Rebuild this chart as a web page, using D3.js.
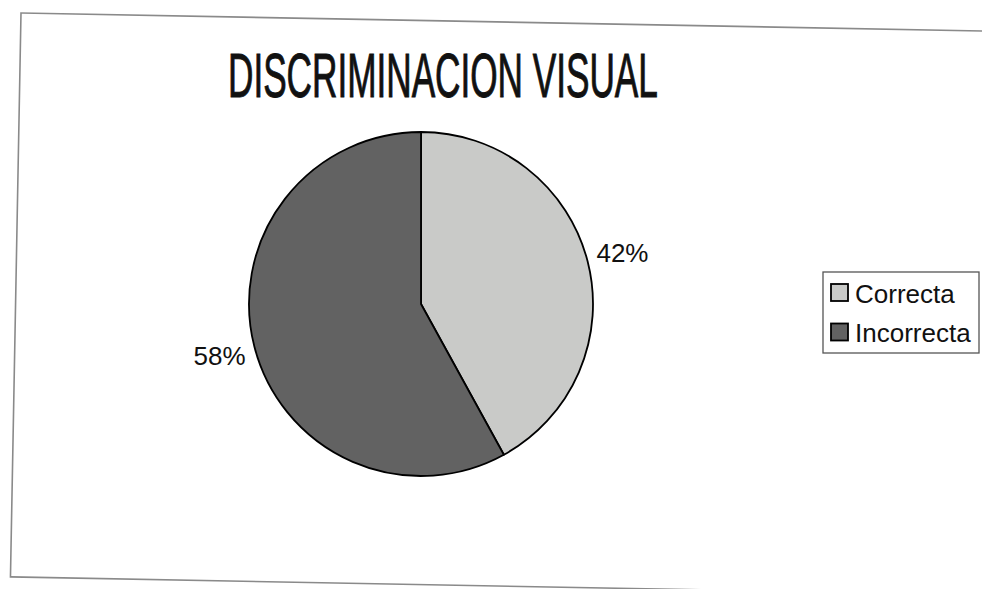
<!DOCTYPE html>
<html>
<head>
<meta charset="utf-8">
<script src="https://cdn.jsdelivr.net/npm/d3@7/dist/d3.min.js"></script>
<style>
  html, body { margin: 0; padding: 0; background: #ffffff; }
  svg { display: block; }
</style>
</head>
<body>
<svg id="chart" width="982" height="589"></svg>
<script>
// ---- data ----
const categories = ["Correcta", "Incorrecta"];
const values = [42, 58];
const labels = ["42%", "58%"];
const title = "DISCRIMINACION VISUAL";

// ---- styles ----
const colors = d3.scaleOrdinal().domain(categories).range(["#c9cac8", "#626262"]);

const svg = d3.select("#chart");

// frame (scanned page is slightly rotated)
svg.append("rect")
  .attr("x", 21).attr("y", 13)
  .attr("width", 1000).attr("height", 564)
  .attr("fill", "none")
  .attr("stroke", "#8a8a8a")
  .attr("stroke-width", 1.6)
  .attr("transform", "rotate(1.07,21,13)");

// title: condensed by horizontal scaling to the reference width
const tg = svg.append("g");
const t = tg.append("text")
  .attr("x", 0).attr("y", 0)
  .style("font-family", "'Liberation Sans', Arial, sans-serif")
  .style("font-size", "62px")
  .style("fill", "#111")
  .style("stroke", "#111")
  .style("stroke-width", "1px")
  .text(title);
const w0 = t.node().getComputedTextLength() || 700;
tg.attr("transform", `translate(228,97) scale(${430 / w0},1)`);

// pie
const cx = 421, cy = 304, r = 172;
const pie = d3.pie().sort(null).value(d => d.value);
const data = categories.map((c, i) => ({ name: c, value: values[i], label: labels[i] }));
const arcs = pie(data);
const arc = d3.arc().innerRadius(0).outerRadius(r);
const labelArc = d3.arc().innerRadius(208).outerRadius(208);

const g = svg.append("g").attr("transform", `translate(${cx},${cy})`);
g.selectAll("path.slice")
  .data(arcs)
  .enter().append("path")
  .attr("class", "slice")
  .attr("d", arc)
  .attr("fill", d => colors(d.data.name))
  .attr("stroke", "#000")
  .attr("stroke-width", 1.8)
  .attr("stroke-linejoin", "round");

g.selectAll("text.lbl")
  .data(arcs)
  .enter().append("text")
  .attr("class", "lbl")
  .attr("transform", d => `translate(${labelArc.centroid(d)})`)
  .attr("text-anchor", "middle")
  .attr("dy", "0.36em")
  .style("font-family", "'Liberation Sans', Arial, sans-serif")
  .style("font-size", "26px")
  .style("fill", "#111")
  .text(d => d.data.label);

// legend
const lg = svg.append("g");
lg.append("rect")
  .attr("x", 823).attr("y", 272)
  .attr("width", 156).attr("height", 81)
  .attr("fill", "#fff")
  .attr("stroke", "#555")
  .attr("stroke-width", 1.3);

const items = lg.selectAll("g.item")
  .data(categories)
  .enter().append("g")
  .attr("class", "item")
  .attr("transform", (d, i) => `translate(831,${284 + i * 39.5})`);

items.append("rect")
  .attr("width", 17).attr("height", 17)
  .attr("fill", d => colors(d))
  .attr("stroke", "#000")
  .attr("stroke-width", 1.8);

items.append("text")
  .attr("x", 24).attr("y", 18.5)
  .style("font-family", "'Liberation Sans', Arial, sans-serif")
  .style("font-size", "26px")
  .style("fill", "#111")
  .text(d => d);
</script>
</body>
</html>
